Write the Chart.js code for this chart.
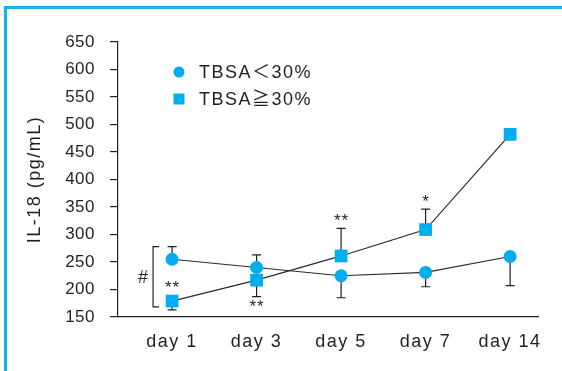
<!DOCTYPE html>
<html>
<head>
<meta charset="utf-8">
<script src="https://cdn.jsdelivr.net/npm/chart.js@4/dist/chart.umd.min.js"></script>
<style>
  html, body { margin: 0; padding: 0; background: #fff; overflow: hidden; }
  #wrap { position: relative; width: 562px; height: 371px; }
  #frame {
    position: absolute; left: 4px; top: 6px; width: 620px; height: 420px;
    border-left: 3px solid #14b1ec; border-top: 3px solid #14b1ec; box-sizing: border-box;
  }
  canvas { position: absolute; left: 0; top: 0; }
</style>
</head>
<body>
<div id="wrap">
  <div id="frame"></div>
  <canvas id="c" width="562" height="371"></canvas>
</div>
<script>
// Sampling days and axis ticks
const days = ['day 1', 'day 3', 'day 5', 'day 7', 'day 14'];
const yTicks = [150, 200, 250, 300, 350, 400, 450, 500, 550, 600, 650];

// IL-18 means (pg/mL) per group
const lowBurn = [255, 240, 225, 231, 260];        // TBSA<30%
const highBurn = [179, 217, 261, 309, 482];       // TBSA>=30%

// One-sided error bars: size and direction (+1 up, -1 down)
const lowErr = [23, 23, 40, 26, 53];
const lowErrDir = [1, 1, -1, -1, -1];
const highErr = [16, 30, 50, 37, 0];
const highErrDir = [-1, -1, 1, 1, 1];

// Significance marks for the TBSA>=30% group and where they sit
const sigMarks = ['**', '**', '**', '*', ''];
const sigSide = ['above', 'below', 'above', 'above', ''];

const FONT = "'Liberation Sans', Arial, Helvetica, 'Noto Sans CJK JP', sans-serif";
const INK = '#231f20';
const CYAN = '#00aeef';
const WIDE = '1.5px';   // tracking for labels and legend text
const TIGHT = '0.5px';  // tracking for the value ticks

const tracking = {
  id: 'tracking',
  beforeDraw(chart) { chart.ctx.letterSpacing = WIDE; }
};

// run a scale's label drawing with tighter letter spacing
function tightLabels(scale) {
  if (scale._tightWrapped) return;
  const orig = scale.drawLabels.bind(scale);
  scale.drawLabels = (area) => {
    const ctx = scale.ctx;
    ctx.letterSpacing = TIGHT;
    orig(area);
    ctx.letterSpacing = WIDE;
  };
  scale._tightWrapped = true;
}

const errorBars = {
  id: 'errorBars',
  beforeDatasetsDraw(chart) {
    const { ctx, scales: { x, y } } = chart;
    const sets = [[lowBurn, lowErr, lowErrDir], [highBurn, highErr, highErrDir]];
    ctx.save();
    ctx.strokeStyle = INK;
    ctx.lineWidth = 1.2;
    sets.forEach(([vals, errs, dirs]) => {
      vals.forEach((v, i) => {
        if (!errs[i]) return;
        const px = x.getPixelForValue(i);
        const y0 = y.getPixelForValue(v);
        const y1 = y.getPixelForValue(v + errs[i] * dirs[i]);
        ctx.beginPath();
        ctx.moveTo(px, y0); ctx.lineTo(px, y1);
        ctx.moveTo(px - 4.5, y1); ctx.lineTo(px + 4.5, y1);
        ctx.stroke();
      });
    });
    ctx.restore();
  }
};

const annotations = {
  id: 'annotations',
  afterDraw(chart) {
    const { ctx, scales: { x, y } } = chart;
    ctx.save();
    ctx.fillStyle = INK;
    ctx.textAlign = 'center';
    ctx.textBaseline = 'middle';
    // asterisks over the TBSA>=30% points
    ctx.letterSpacing = '1px';
    ctx.font = '17px ' + FONT;
    sigMarks.forEach((m, i) => {
      if (!m) return;
      const v = highBurn[i];
      const end = v + highErr[i] * highErrDir[i];
      const px = x.getPixelForValue(i);
      let cy;
      if (sigSide[i] === 'above') {
        cy = y.getPixelForValue(Math.max(v, end)) - (end > v ? 11 : 17);
      } else {
        cy = y.getPixelForValue(Math.min(v, end)) + (end < v ? 7 : 13);
      }
      ctx.fillText(m, px + 0.5, cy + 4);
    });
    // bracket comparing the two groups on day 1
    const bx = x.getPixelForValue(0) - 19;
    const top = y.getPixelForValue(lowBurn[0] + lowErr[0]);
    const bot = y.getPixelForValue(highBurn[0] + highErr[0] * highErrDir[0]) - 3;
    ctx.strokeStyle = INK;
    ctx.lineWidth = 1.2;
    ctx.beginPath();
    ctx.moveTo(bx + 6, top); ctx.lineTo(bx, top); ctx.lineTo(bx, bot); ctx.lineTo(bx + 6, bot);
    ctx.stroke();
    ctx.letterSpacing = '0px';
    ctx.font = '18px ' + FONT;
    ctx.fillText('#', bx - 10, (top + bot) / 2 + 1);

    // legend
    const lx = chart.chartArea.left + 61, ly = chart.chartArea.top + 30;
    ctx.fillStyle = CYAN;
    ctx.beginPath(); ctx.arc(lx, ly, 5.5, 0, Math.PI * 2); ctx.fill();
    ctx.fillRect(lx - 5.5, ly + 27 - 5.5, 11, 11);
    ctx.fillStyle = INK;
    ctx.textAlign = 'left';
    ctx.letterSpacing = WIDE;
    ctx.font = '18px ' + FONT;
    ctx.fillText(chart.data.datasets[0].label, lx + 20, ly + 1);
    ctx.fillText(chart.data.datasets[1].label, lx + 20, ly + 28);
    ctx.restore();
  }
};

new Chart(document.getElementById('c'), {
  type: 'line',
  data: {
    datasets: [
      {
        label: 'TBSA＜30%',
        data: lowBurn.map((v, i) => ({ x: i, y: v })),
        borderColor: '#2b2b2b', borderWidth: 1.2,
        pointStyle: 'circle', pointRadius: 6.5,
        pointBackgroundColor: CYAN, pointBorderWidth: 0
      },
      {
        label: 'TBSA≧30%',
        data: highBurn.map((v, i) => ({ x: i, y: v })),
        borderColor: '#2b2b2b', borderWidth: 1.2,
        pointStyle: 'rect', pointRadius: 9,
        pointBackgroundColor: CYAN, pointBorderWidth: 0
      }
    ]
  },
  options: {
    responsive: false,
    animation: false,
    events: [],
    layout: { padding: { top: 42, right: 24, left: 0, bottom: 0 } },
    plugins: { legend: { display: false }, tooltip: { enabled: false } },
    scales: {
      x: {
        type: 'linear', min: -0.64, max: 4.33,
        afterBuildTicks: s => { s.ticks = days.map((_, i) => ({ value: i })); },
        afterFit: s => { s.height = 54; },
        grid: { display: false, drawTicks: false },
        border: { display: true, color: INK, width: 1.2 },
        ticks: {
          callback: v => days[v] ?? '',
          color: INK, font: { family: FONT, size: 18 }, padding: 14,
          maxRotation: 0, autoSkip: false
        }
      },
      y: {
        min: 150, max: 650,
        afterBuildTicks: s => { s.ticks = yTicks.map(v => ({ value: v })); },
        afterFit: s => { s.width = 118; tightLabels(s); },
        grid: { display: true, drawOnChartArea: false, drawTicks: true, tickLength: 8, color: INK, lineWidth: 1.2 },
        border: { display: true, color: INK, width: 1.2 },
        ticks: { color: INK, font: { family: FONT, size: 17 }, padding: 15 },
        title: {
          display: true, text: 'IL-18 (pg/mL)', color: INK,
          font: { family: FONT, size: 18 }, padding: { top: 24, bottom: 0 }
        }
      }
    }
  },
  plugins: [tracking, errorBars, annotations]
});
</script>
</body>
</html>
